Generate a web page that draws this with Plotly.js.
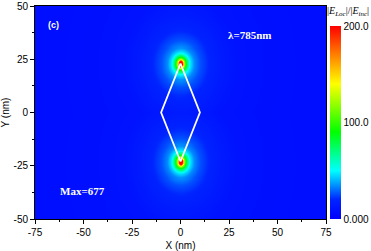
<!DOCTYPE html>
<html>
<head>
<meta charset="utf-8">
<script src="https://cdn.plot.ly/plotly-3.0.1.min.js"></script>
<style>html,body{margin:0;padding:0;background:#fff;}#chart{width:371px;height:251px;}</style>
</head>
<body>
<div id="chart"></div>
<script>
// Hot-spot centres (nm) at the two sharp tips of the rhombus
const hotspotX = [0, 0];
const hotspotY = [23, -23];
// Radial field-enhancement profile: distance (nm) -> |E_loc|/|E_inc|
const profileDist = [0, 1, 2, 3.2, 4.8, 7, 10, 15, 22, 30, 60];
const profileVal  = [677, 200, 120, 78, 48, 34, 26, 19, 14, 10, 8];
// Rhombus outline (nm)
const diamondX = [0, 10, 0, -10, 0];
const diamondY = [23, 0, -23, 0, 23];
// Axis ticks
const xTicks = [-75, -50, -25, 0, 25, 50, 75];
const xTickText = ['-75', '-50', '-25', '0', '25', '50', '75'];
const yTicks = [-50, -25, 0, 25, 50];
const yTickText = ['-50', '-25', '0', '25', '50'];
const cbTickVals = [0, 100, 200];
const cbTickText = ['0.000', '100.0', '200.0'];
const maxValue = 677;
const wavelength = 785;

function lookup(d) {
  if (d >= profileDist[profileDist.length - 1]) return profileVal[profileVal.length - 1];
  for (let i = 0; i < profileDist.length - 1; i++) {
    if (d <= profileDist[i + 1]) {
      const t = (d - profileDist[i]) / (profileDist[i + 1] - profileDist[i]);
      return profileVal[i] + t * (profileVal[i + 1] - profileVal[i]);
    }
  }
}
const gx = [], gy = [];
for (let x = -75; x <= 75; x += 0.5) gx.push(x);
for (let y = -50; y <= 50; y += 0.5) gy.push(y);
const z = gy.map(y => gx.map(x => {
  let v = 0;
  for (let k = 0; k < hotspotX.length; k++) {
    const d = Math.hypot(x - hotspotX[k], (y - hotspotY[k]) * 0.9);
    v = Math.max(v, lookup(d));
  }
  return v;
}));

const heat = {
  type: 'heatmap', x: gx, y: gy, z: z, zmin: 0, zmax: 200, zsmooth: 'best',
  colorscale: [[0, '#0000ff'], [0.1, '#0024ff'], [0.25, '#00ffff'], [0.45, '#00ff00'],
               [0.7, '#ffff00'], [0.85, '#ff8000'], [1, '#ff0000']],
  colorbar: {
    x: 1.014, xanchor: 'left', xpad: 0, y: 0, yanchor: 'bottom', ypad: 0, len: 0.906, thickness: 11,
    outlinewidth: 0, ticks: '', tickvals: cbTickVals, ticktext: cbTickText,
    tickfont: {family: 'Liberation Sans, Arial', size: 10, color: '#000'}
  },
  hoverinfo: 'skip'
};
const outline = {
  type: 'scatter', mode: 'lines', x: diamondX, y: diamondY,
  line: {color: '#fff', width: 1.8}, hoverinfo: 'skip', showlegend: false
};

const axisCommon = {
  showgrid: false, zeroline: false, showline: true, linecolor: '#000', linewidth: 1,
  mirror: true, ticks: 'outside', ticklen: 4, tickcolor: '#000',
  tickfont: {family: 'Liberation Sans, Arial', size: 10, color: '#000'},
  minor: {ticks: 'outside', ticklen: 2, tickcolor: '#000', dtick: 12.5}
};

const layout = {
  width: 371, height: 251,
  margin: {l: 35, r: 45, t: 6, b: 32, autoexpand: false},
  paper_bgcolor: '#fff', plot_bgcolor: '#0000ff',
  showlegend: false,
  xaxis: Object.assign({}, axisCommon, {
    range: [-75, 75], tickvals: xTicks, ticktext: xTickText,
    title: {text: 'X (nm)', font: {family: 'Liberation Sans, Arial', size: 10, color: '#000'}, standoff: 7}
  }),
  yaxis: Object.assign({}, axisCommon, {
    range: [-50, 50], tickvals: yTicks, ticktext: yTickText,
    title: {text: 'Y (nm)', font: {family: 'Liberation Sans, Arial', size: 10, color: '#000'}, standoff: 4}
  }),
  annotations: [
    {xref: 'paper', yref: 'paper', x: 0.038, y: 0.91, xanchor: 'left', yanchor: 'middle', showarrow: false,
     text: '<b>(c)</b>', font: {family: 'Liberation Sans, Arial', size: 9, color: '#fff'}},
    {xref: 'paper', yref: 'paper', x: 0.655, y: 0.865, xanchor: 'left', yanchor: 'middle', showarrow: false,
     text: '<b>λ=' + wavelength + 'nm</b>', font: {family: 'Liberation Serif, Times New Roman', size: 11, color: '#fff'}},
    {xref: 'paper', yref: 'paper', x: 0.078, y: 0.13, xanchor: 'left', yanchor: 'middle', showarrow: false,
     text: '<b>Max=' + maxValue + '</b>', font: {family: 'Liberation Serif, Times New Roman', size: 11, color: '#fff'}},
    {xref: 'paper', yref: 'paper', x: 1.077, y: 1.012, xanchor: 'center', yanchor: 'top', showarrow: false,
     text: '|<i>E</i><sub><i>Loc</i></sub>|/|<i>E</i><sub><i>inc</i></sub>|',
     font: {family: 'Liberation Serif, Times New Roman', size: 10, color: '#000'}}
  ]
};

Plotly.newPlot('chart', [heat, outline], layout, {displayModeBar: false, staticPlot: true});
</script>
</body>
</html>
